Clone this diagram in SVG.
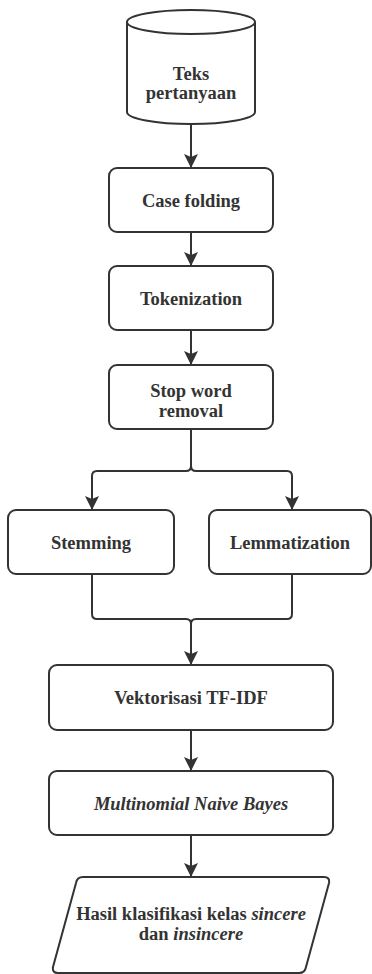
<svg xmlns="http://www.w3.org/2000/svg" width="372" height="974" viewBox="0 0 372 974">
<style>
.n{fill:#fff;stroke:#333;stroke-width:2}
.c{fill:none;stroke:#333;stroke-width:2}
.t{font-weight:bold;font-size:18.5px;fill:#333;text-anchor:middle}
.i{font-style:italic}
</style>
<defs>
<marker id="ah" markerUnits="userSpaceOnUse" markerWidth="14" markerHeight="14" viewBox="0 0 14 14" refX="13" refY="7" orient="auto">
<path d="M0,0 L14,7 L0,14 L3,7 Z" fill="#333"/>
</marker>
</defs>
<rect width="372" height="974" fill="#fff"/>
<g id="connectors">
<path class="c" d="M191 124 V167" marker-end="url(#ah)"/>
<path class="c" d="M191 232 V265" marker-end="url(#ah)"/>
<path class="c" d="M191 330 V364" marker-end="url(#ah)"/>
<path class="c" d="M191 429 V466 Q191 471 186 471 H97 Q92 471 92 476 V509" marker-end="url(#ah)"/>
<path class="c" d="M191 466 Q191 471 196 471 H287 Q292 471 292 476 V509" marker-end="url(#ah)"/>
<path class="c" d="M92 574 V614 Q92 619 97 619 H186 Q191 619 191 624 V664" marker-end="url(#ah)"/>
<path class="c" d="M292 574 V614 Q292 619 287 619 H196 Q191 619 191 624"/>
<path class="c" d="M191 730 V770" marker-end="url(#ah)"/>
<path class="c" d="M191 835 V876" marker-end="url(#ah)"/>
</g>
<g font-family="Liberation Serif, serif">
<g id="teks">
<path class="n" d="M127 22 A64 12 0 0 1 255 22 V112 A64 12 0 0 1 127 112 Z"/>
<path class="c" d="M127 22 A64 12 0 0 0 255 22"/>
<text class="t" x="191" y="80">Teks</text>
<text class="t" x="191" y="99">pertanyaan</text>
</g>
<g id="casefolding">
<rect class="n" x="109" y="168" width="164" height="64" rx="8"/>
<text class="t" x="191" y="207">Case folding</text>
</g>
<g id="tokenization">
<rect class="n" x="109" y="266" width="164" height="64" rx="8"/>
<text class="t" x="191" y="305">Tokenization</text>
</g>
<g id="stopword">
<rect class="n" x="109" y="365" width="164" height="64" rx="8"/>
<text class="t" x="191" y="397">Stop word</text>
<text class="t" x="191" y="417">removal</text>
</g>
<g id="stemming">
<rect class="n" x="8" y="510" width="166" height="64" rx="8"/>
<text class="t" x="91" y="549">Stemming</text>
</g>
<g id="lemmatization">
<rect class="n" x="209" y="510" width="162" height="64" rx="8"/>
<text class="t" x="290" y="549">Lemmatization</text>
</g>
<g id="vektorisasi">
<rect class="n" x="49" y="665" width="284" height="65" rx="8"/>
<text class="t" x="191" y="704">Vektorisasi TF-IDF</text>
</g>
<g id="mnb">
<rect class="n" x="49" y="771" width="284" height="64" rx="8"/>
<text class="t i" x="191" y="810">Multinomial Naive Bayes</text>
</g>
<g id="hasil">
<path class="n" d="M83 877 H324 Q330 877 329 883 L306 967 Q305 973 299 973 H58 Q52 973 53 967 L76 883 Q77 877 83 877 Z"/>
<text class="t" x="191" y="920" font-size="17">Hasil klasifikasi kelas <tspan class="i">sincere</tspan></text>
<text class="t" x="191" y="940" font-size="17">dan <tspan class="i">insincere</tspan></text>
</g>
</g>
</svg>
